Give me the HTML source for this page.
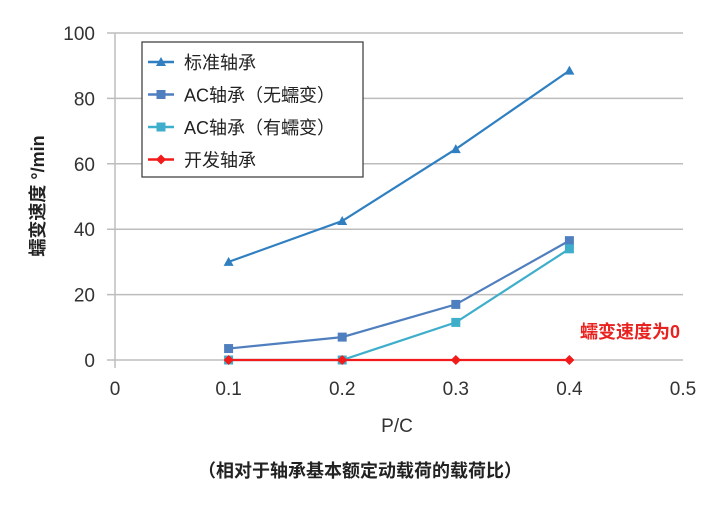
<!DOCTYPE html>
<html><head><meta charset="utf-8"><style>
body{margin:0;background:#fff}
svg text{font-family:"Liberation Sans","Noto Sans CJK SC",sans-serif}
</style></head><body>
<svg id="c" width="720" height="515" xmlns="http://www.w3.org/2000/svg"></svg>
<script>
const xTicks=[0,0.1,0.2,0.3,0.4,0.5];
const xTickLabels=["0","0.1","0.2","0.3","0.4","0.5"];
const yTicks=[0,20,40,60,80,100];
const yTickLabels=["0","20","40","60","80","100"];
const categories=[0.1,0.2,0.3,0.4];
const standard=[30,42.5,64.5,88.5];
const acNoCreep=[3.5,7,17,36.5];
const acCreep=[0,0,11.5,34];
const developed=[0,0,0,0];
const svg=document.getElementById('c');
const NS='http://www.w3.org/2000/svg';
const X=v=>115+v/0.5*568, Y=v=>360-v/100*327;
function mk(t,a,txt){const e=document.createElementNS(NS,t);for(const k in a)e.setAttribute(k,a[k]);if(txt!=null)e.textContent=txt;svg.appendChild(e);return e;}
yTicks.forEach((v,i)=>{
 const l=mk('line',{x1:107,x2:683,y1:Y(v),y2:Y(v),stroke:'#bdbdbd','stroke-width':1.5});
 
 const t=mk('text',{x:95,y:Y(v)+7,'text-anchor':'end','font-size':19,fill:'#333'},yTickLabels[i]);
 
});
const ax=mk('line',{x1:115,x2:115,y1:33,y2:368,stroke:'#bdbdbd','stroke-width':1.5});

xTicks.forEach((v,i)=>{
 const t=mk('text',{x:X(v),y:395,'text-anchor':'middle','font-size':19,fill:'#333'},xTickLabels[i]);
 
});
let t=mk('text',{x:397,y:432,'text-anchor':'middle','font-size':19,fill:'#333'},'P/C');

t=mk('text',{x:360,y:477,'text-anchor':'middle','font-size':18,fill:'#222','font-weight':'bold'},'（相对于轴承基本额定动载荷的载荷比）');

t=mk('text',{x:0,y:0,'text-anchor':'middle','font-size':18,fill:'#222','font-weight':'bold',transform:'translate(44,196) rotate(-90)'},'蠕变速度 °/min');

t=mk('text',{x:680,y:338,'text-anchor':'end','font-size':18,fill:'#e8231f','font-weight':'bold'},'蠕变速度为0');

const series=[
 {name:'standard',data:standard,color:'#2f7fc1',m:'tri'},
 {name:'ac-no-creep',data:acNoCreep,color:'#4f7fbf',m:'sq'},
 {name:'ac-creep',data:acCreep,color:'#3eaecb',m:'sq'},
 {name:'developed',data:developed,color:'#f21a1a',m:'dia'}];
function marker(m,x,y,c,nm){let e;
 if(m==='tri')e=mk('polygon',{points:`${x},${y-5} ${x-5},${y+4} ${x+5},${y+4}`,fill:c});
 else if(m==='sq')e=mk('rect',{x:x-4.5,y:y-4.5,width:9,height:9,fill:c});
 else e=mk('polygon',{points:`${x},${y-5} ${x+5},${y} ${x},${y+5} ${x-5},${y}`,fill:c});
 }
series.forEach(s=>{
 const p=mk('polyline',{points:s.data.map((v,i)=>X(categories[i])+','+Y(v)).join(' '),fill:'none',stroke:s.color,'stroke-width':2.2});
 
 s.data.forEach((v,i)=>marker(s.m,X(categories[i]),Y(v),s.color,s.name+'-point'));
});
const lb=mk('rect',{x:142,y:42,width:221,height:135,fill:'#fff',stroke:'#444','stroke-width':1.3});

const labels=['标准轴承','AC轴承（无蠕变）','AC轴承（有蠕变）','开发轴承'];
series.forEach((s,i)=>{const y=62+i*32.5;
 const l=mk('line',{x1:148,x2:174,y1:y,y2:y,stroke:s.color,'stroke-width':2.5});
 
 marker(s.m,161,y,s.color,'legend-marker');
 const tt=mk('text',{x:184,y:y+7,'font-size':18,fill:'#222'},labels[i]);
 
});
</script>
</body></html>
